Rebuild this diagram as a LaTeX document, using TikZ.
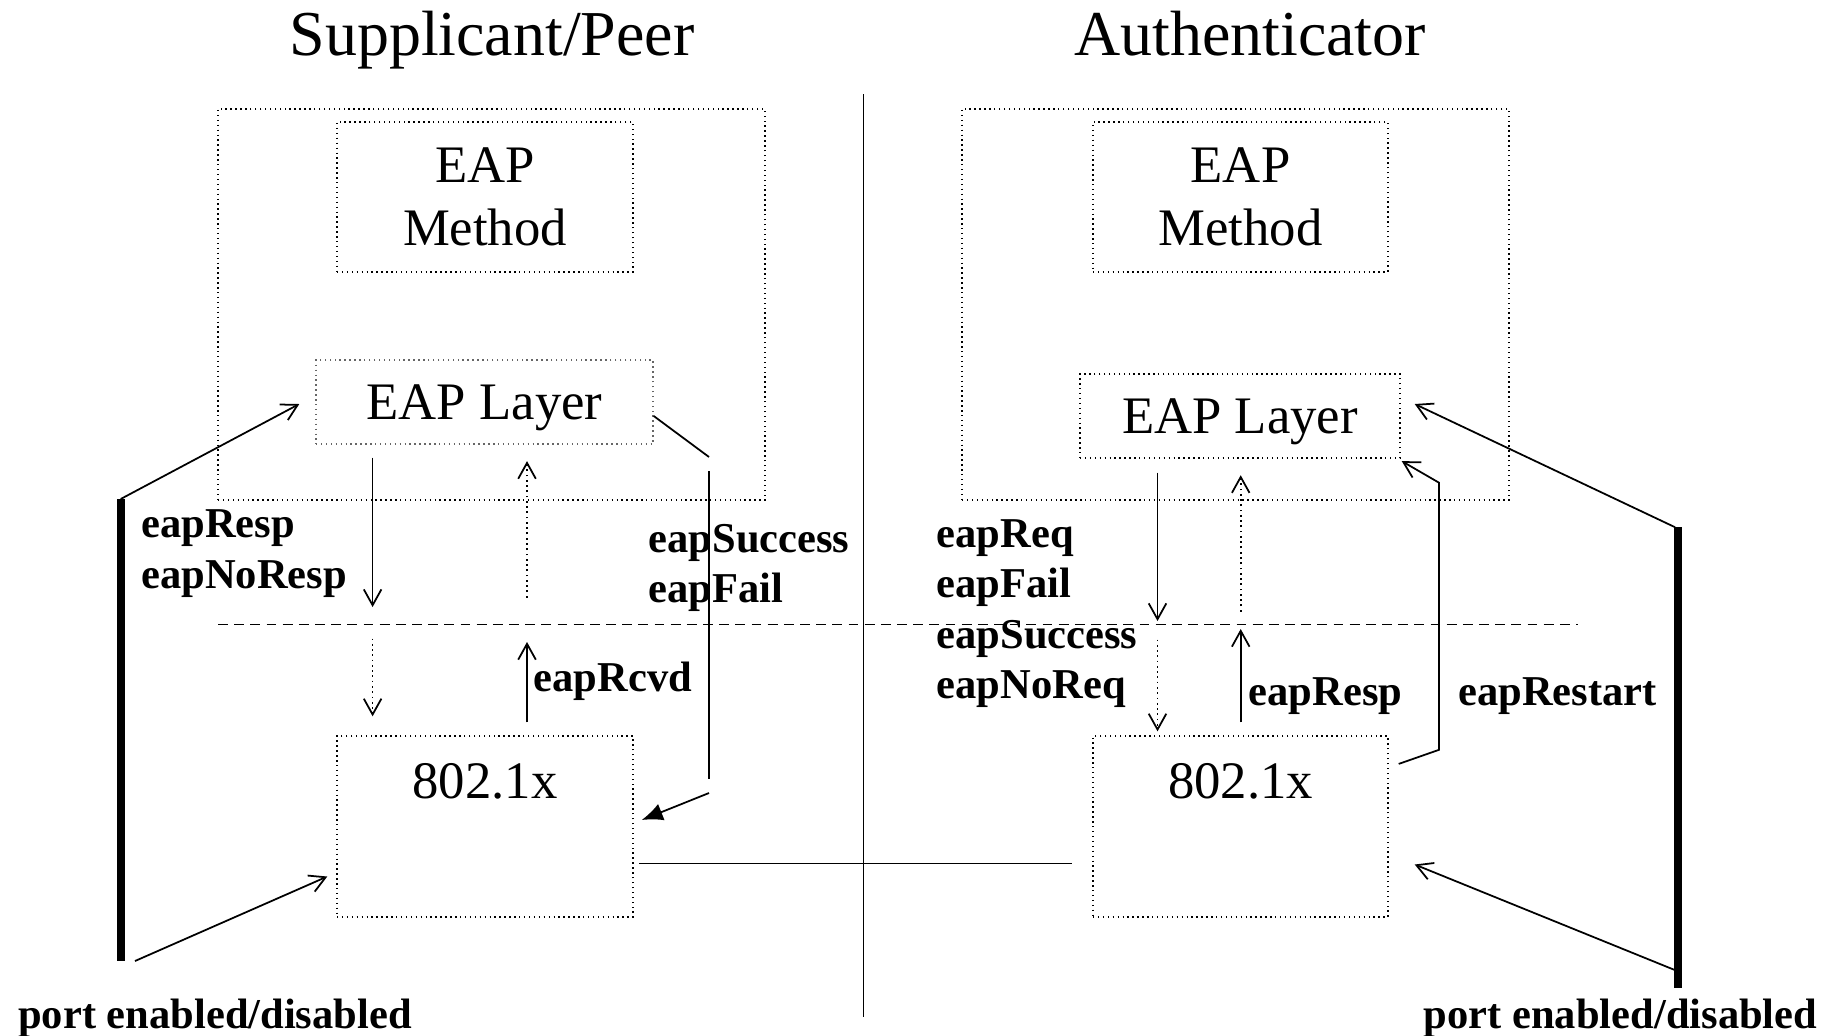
\documentclass[tikz,border=0pt]{standalone}
\usepackage{fontspec}
\setmainfont{Liberation Serif}
\usetikzlibrary{arrows.meta}

\begin{document}
\begin{tikzpicture}[
        dotbox/.style={draw,densely dotted,line width=0.4pt,inner sep=0pt},
        boxtext/.style={font=\fontsize{15}{18}\selectfont,align=center,inner sep=0pt},
        side/.style={font=\fontsize{18.2}{21}\selectfont,inner sep=0pt,anchor=base},
        sig/.style={font=\fontsize{12.1}{14.3}\selectfont\bfseries,align=left,inner sep=0pt},
        flow/.style={line width=0.5pt,-{Straight Barb[length=4.5pt,width=5pt]}},
        portbar/.style={line width=2.2pt}
    ]
            \useasboundingbox (0,0) rectangle (18.37,10.35);

            \node[side] (A) at (4.92, 9.80) {Supplicant/Peer};
            \node[side] (B) at (12.50, 9.80) {Authenticator};

            \node[dotbox,minimum width=5.47cm,minimum height=3.91cm] (C) at (4.915, 7.305) {};
            \node[dotbox,boxtext,minimum width=2.96cm,minimum height=1.50cm] (D) at (4.85, 8.38) {EAP\\Method};
            \node[dotbox,boxtext,draw=black!60,text depth=0pt,minimum width=3.37cm,minimum height=0.84cm] (E) at (4.845, 6.33) {EAP Layer};
            \node[dotbox,minimum width=2.96cm,minimum height=1.81cm] (F) at (4.85, 2.085) {};
            \node[boxtext] (F1) at (4.85, 2.535) {802.1x};

            \node[dotbox,minimum width=5.47cm,minimum height=3.91cm] (G) at (12.355, 7.305) {};
            \node[dotbox,boxtext,minimum width=2.95cm,minimum height=1.50cm] (H) at (12.405, 8.38) {EAP\\Method};
            \node[dotbox,boxtext,text depth=0pt,minimum width=3.20cm,minimum height=0.84cm] (I) at (12.40, 6.19) {EAP Layer};
            \node[dotbox,minimum width=2.95cm,minimum height=1.81cm] (J) at (12.405, 2.085) {};
            \node[boxtext] (J1) at (12.405, 2.535) {802.1x};

            \node[sig,anchor=west] (K) at (1.406, 4.813) {eapResp\\eapNoResp};
            \node[sig,anchor=west] (L) at (6.48, 4.673) {eapSuccess\\eapFail};
            \node[sig,anchor=west] (M) at (5.33, 3.533) {eapRcvd};
            \node[sig,anchor=west] (N) at (9.36, 4.213) {eapReq\\eapFail\\eapSuccess\\eapNoReq};
            \node[sig,anchor=west] (O) at (12.48, 3.391) {eapResp};
            \node[sig,anchor=west] (P) at (14.575, 3.391) {eapRestart};
            \node[sig,anchor=base west] (Q) at (0.176, 0.065) {port enabled/disabled};
            \node[sig,anchor=base east] (R) at (18.18, 0.065) {port enabled/disabled};

            \coordinate (V1) at (8.635, 9.41);
            \coordinate (V2) at (8.635, 0.18);
            \coordinate (W1) at (2.18, 4.105);
            \coordinate (W2) at (15.78, 4.105);
            \coordinate (N1) at (3.726, 4.105);
            \coordinate (N2) at (5.27, 4.105);
            \coordinate (N3) at (11.575, 4.105);
            \coordinate (N4) at (12.407, 4.105);
            \coordinate (P1) at (1.207, 5.36);
            \coordinate (P2) at (1.207, 0.743);
            \coordinate (P3) at (1.35, 0.74);
            \coordinate (Q1) at (16.78, 5.078);
            \coordinate (Q2) at (16.78, 0.474);
            \coordinate (Q3) at (16.75, 0.649);
            \coordinate (S1) at (7.09, 5.78);
            \coordinate (S2) at (7.09, 5.64);
            \coordinate (S3) at (7.09, 2.56);
            \coordinate (S4) at (7.09, 2.42);
            \coordinate (T1) at (14.39, 2.852);
            \coordinate (T2) at (14.39, 5.523);

            \draw[line width=0.5pt] (V1) to (V2);
            \draw[line width=0.5pt,dash pattern=on 2.8pt off 1.8pt] (W1) to (W2);
            \draw[line width=0.5pt] ([xshift=0.055cm,yshift=-0.37cm]F.east) to ([xshift=-0.2cm,yshift=-0.37cm]J.west);

            \draw[flow] ([yshift=-0.13cm]E.south -| N1) to ([yshift=0.175cm]N1);
            \draw[flow,densely dotted] ([yshift=0.27cm]N2) to ([yshift=-0.164cm]E.south -| N2);
            \draw[flow,densely dotted] ([yshift=-0.14cm]N1) to ([yshift=0.19cm]F.north -| N1);
            \draw[flow] ([yshift=0.13cm]F.north -| N2) to ([yshift=-0.175cm]N2);

            \draw[flow] ([yshift=-0.14cm]I.south -| N3) to ([yshift=0.035cm]N3);
            \draw[flow,densely dotted] ([yshift=0.13cm]N4) to ([yshift=-0.165cm]I.south -| N4);
            \draw[flow,densely dotted] ([yshift=-0.15cm]N3) to ([yshift=0.04cm]J.north -| N3);
            \draw[flow] ([yshift=0.13cm]J.north -| N4) to ([yshift=-0.045cm]N4);

            \draw[portbar] (P1) to (P2);
            \draw[flow] (P1) to ([xshift=-0.16cm,yshift=-0.02cm]E.west);
            \draw[flow] (P3) to ([xshift=-0.09cm,yshift=-0.5cm]F.west);

            \draw[portbar] (Q1) to (Q2);
            \draw[flow] ([xshift=-0.03cm]Q1) to ([xshift=0.14cm,yshift=0.12cm]I.east);
            \draw[flow] (Q3) to ([xshift=0.26cm,yshift=-0.38cm]J.east);

            \draw[line width=0.5pt] ([yshift=-0.14cm]E.east) to (S1);
            \draw[line width=0.5pt] (S2) to (S3);
            \draw[line width=0.5pt,-{Latex[length=6pt,width=5pt]}] (S4) to ([xshift=0.08cm,yshift=0.065cm]F.east);

            \draw[flow] ([xshift=0.1cm,yshift=0.626cm]J.east) to (T1) to (T2) to ([xshift=0.01cm,yshift=-0.024cm]I.south east);

        \end{tikzpicture}
\end{document}
